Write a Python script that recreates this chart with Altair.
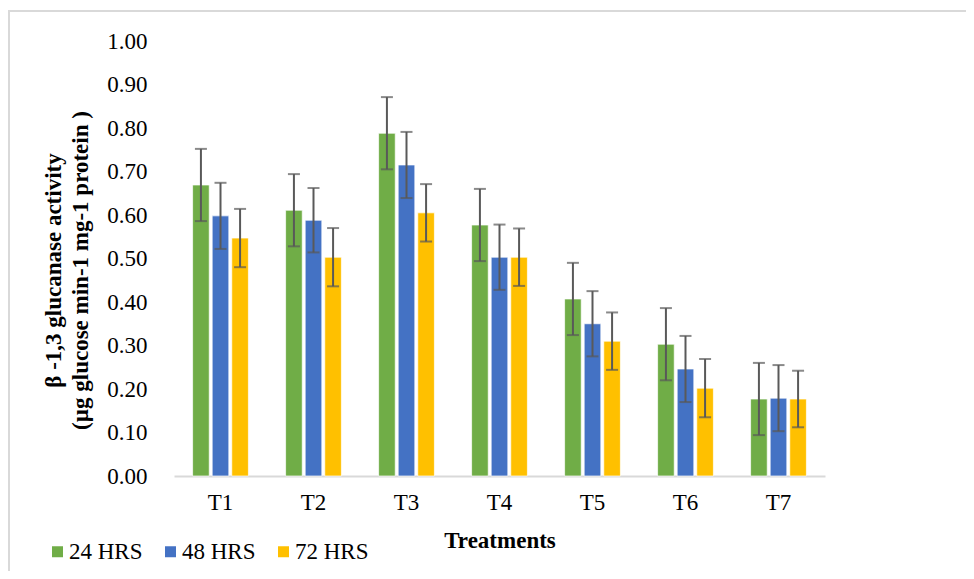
import altair as alt
import pandas as pd

treatments = ["T1", "T2", "T3", "T4", "T5", "T6", "T7"]
series = ["24 HRS", "48 HRS", "72 HRS"]
colors = ["#70AD47", "#4472C4", "#FFC000"]

v24 = [0.669, 0.611, 0.788, 0.577, 0.407, 0.303, 0.177]
v48 = [0.598, 0.588, 0.715, 0.503, 0.350, 0.246, 0.179]
v72 = [0.547, 0.503, 0.605, 0.503, 0.310, 0.202, 0.177]

e24 = [0.083, 0.083, 0.083, 0.083, 0.083, 0.083, 0.083]
e48 = [0.076, 0.074, 0.076, 0.075, 0.075, 0.076, 0.076]
e72 = [0.067, 0.067, 0.066, 0.066, 0.066, 0.067, 0.065]

rows = []
for s, vals, errs in zip(series, [v24, v48, v72], [e24, e48, e72]):
    for t, v, e in zip(treatments, vals, errs):
        rows.append({"Treatment": t, "Series": s, "value": v, "err": e})
df = pd.DataFrame(rows)

FONT = "Liberation Serif"

base = alt.Chart(df).transform_calculate(
    lo="datum.value - datum.err", hi="datum.value + datum.err"
)

x_enc = alt.X(
    "Treatment:N",
    sort=treatments,
    scale=alt.Scale(paddingInner=0.4, paddingOuter=0.2),
    axis=alt.Axis(
        title="Treatments",
        labelAngle=0,
        labelFont=FONT,
        labelFontSize=23,
        labelColor="#000000",
        labelPadding=15,
        ticks=False,
        domainColor="#D9D9D9",
        domainWidth=2,
        grid=False,
        titleFont=FONT,
        titleFontSize=23,
        titleFontWeight="bold",
        titleColor="#000000",
        titlePadding=15,
    ),
)
xo_enc = alt.XOffset(
    "Series:N", sort=series, scale=alt.Scale(paddingInner=0.15, paddingOuter=0)
)

bars = base.mark_bar(stroke="#FFFFFF", strokeWidth=1, strokeOpacity=0.7).encode(
    x=x_enc,
    xOffset=xo_enc,
    y=alt.Y(
        "value:Q",
        scale=alt.Scale(domain=[0, 1]),
        axis=alt.Axis(
            values=[i / 10 for i in range(11)],
            format=".2f",
            labelFont=FONT,
            labelFontSize=23,
            labelColor="#000000",
            labelPadding=27,
            ticks=False,
            domain=False,
            grid=False,
            title=["β -1,3 glucanase activity", "(µg glucose min-1 mg-1 protein )"],
            titleFont=FONT,
            titleFontSize=23,
            titleFontWeight="bold",
            titleColor="#000000",
            titleLineHeight=27,
            titlePadding=14,
            titleY=229,
        ),
    ),
    color=alt.Color(
        "Series:N",
        sort=series,
        scale=alt.Scale(domain=series, range=colors),
        legend=alt.Legend(
            title=None,
            orient="none",
            legendX=-128,
            legendY=499,
            direction="horizontal",
            symbolType="square",
            symbolSize=121,
            symbolStrokeWidth=0,
            symbolOpacity=1,
            labelFont=FONT,
            labelFontSize=23,
            labelColor="#000000",
            labelOffset=0,
            columnPadding=16,
            padding=0,
        ),
    ),
)

err_rule = base.mark_rule(color="#595959", strokeWidth=2).encode(
    x=alt.X("Treatment:N", sort=treatments), xOffset=xo_enc, y="lo:Q", y2="hi:Q"
)
cap_hi = base.mark_tick(color="#595959", thickness=2, size=12, orient="horizontal").encode(
    x=alt.X("Treatment:N", sort=treatments), xOffset=xo_enc, y="hi:Q"
)
cap_lo = base.mark_tick(color="#595959", thickness=2, size=12, orient="horizontal").encode(
    x=alt.X("Treatment:N", sort=treatments), xOffset=xo_enc, y="lo:Q"
)

frame = alt.Chart(alt.Data(values=[{"a": 1}])).mark_rect(
    fill=None, stroke="#D9D9D9", strokeWidth=2
).encode(
    x=alt.value(-165), x2=alt.value(900), y=alt.value(-30), y2=alt.value(600)
)

chart = alt.layer(frame, bars, err_rule, cap_hi, cap_lo).properties(
    width=651,
    height=435,
    autosize=alt.AutoSizeParams(type="none"),
    padding={"left": 166, "top": 33, "right": 141, "bottom": 95},
).configure_view(stroke=None)

chart.save("out.html", embed_options={"renderer": "svg", "actions": False})
